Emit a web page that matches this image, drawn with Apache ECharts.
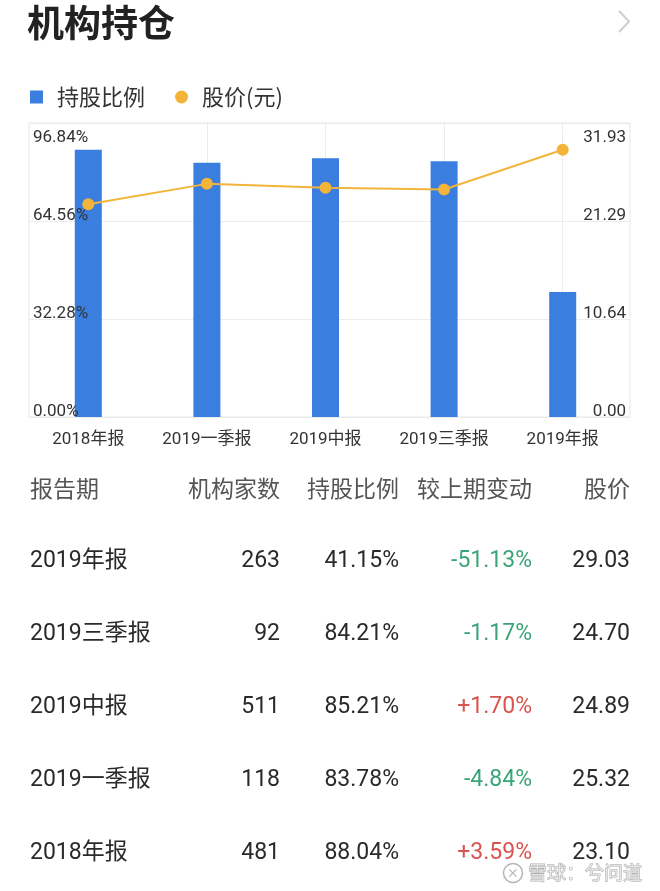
<!DOCTYPE html>
<html>
<head>
<meta charset="utf-8">
<script src="https://cdn.jsdelivr.net/npm/echarts@6/dist/echarts.min.js"></script>
<style>
html,body{margin:0;padding:0;background:#fff;}
#main{width:660px;height:891px;}
</style>
</head>
<body>
<div id="main"></div>
<script>
// ---- data ----
const categories = ['2018年报', '2019一季报', '2019中报', '2019三季报', '2019年报'];
const holdPct = [88.04, 83.78, 85.21, 84.21, 41.15];
const price = [23.10, 25.32, 24.89, 24.70, 29.03];
const orgCount = [481, 118, 511, 92, 263];
const changePct = [3.59, -4.84, 1.70, -1.17, -51.13];
const pctAxisMax = 96.84;
const priceAxisMax = 31.93;
const tableHeaders = ['报告期', '机构家数', '持股比例', '较上期变动', '股价'];
const legendNames = ['持股比例', '股价(元)'];
const titleText = '机构持仓';
const watermarkText = '雪球：兮问道';

// ---- styles ----
const FONT = 'Roboto, "Noto Sans CJK SC", sans-serif';
const CJK = '"Noto Sans CJK SC", sans-serif';
const BLUE = '#3a7ee0';
const GOLD = '#f2b53a';
const GRIDC = '#ececec';
const GREEN = '#3aa57a';
const RED = '#d9534f';

const chart = echarts.init(document.getElementById('main'), null, {renderer: 'canvas'});

const pctInterval = pctAxisMax / 3;
const priceInterval = priceAxisMax / 3;
const near = (a, b) => Math.abs(a - b) < 1e-6;

function labelAxis(pos, max, interval, isTop, fmt) {
  return {
    gridIndex: 1, type: 'value', position: pos, min: 0, max: max, interval: interval, z: 10,
    axisLine: {show: false}, axisTick: {show: false}, splitLine: {show: false},
    axisLabel: {
      inside: true, margin: 4, fontSize: 17, color: '#333', fontFamily: FONT,
      verticalAlign: isTop ? 'top' : 'bottom', lineHeight: isTop ? 29 : 11,
      formatter: function (v) {
        const m = near(v, max);
        if (isTop !== m) return '';
        return fmt(v);
      }
    }
  };
}

// ---- table graphics ----
const colX = [30, 280, 399, 532, 630];
const colAlign = ['left', 'right', 'right', 'right', 'right'];
const headerY = 488;
const rowY0 = 561, rowGap = 73;
const graphics = [];
function txt(x, y, text, align, fill, size, family, extra) {
  graphics.push({
    type: 'text', x: x, y: y, silent: true,
    style: Object.assign({
      text: text, fill: fill, fontSize: size, fontFamily: family,
      align: align, verticalAlign: 'middle', textAlign: align, textVerticalAlign: 'middle'
    }, extra || {})
  });
}
tableHeaders.forEach((h, c) => txt(colX[c], headerY, h, colAlign[c], '#555', 23, CJK));
for (let k = 0; k < categories.length; k++) {
  const i = categories.length - 1 - k;
  const y = rowY0 + rowGap * k;
  const ch = changePct[i];
  txt(colX[0], y, categories[i], 'left', '#2a2a2a', 23, FONT);
  txt(colX[1], y, String(orgCount[i]), 'right', '#2a2a2a', 23, FONT);
  txt(colX[2], y, holdPct[i].toFixed(2) + '%', 'right', '#2a2a2a', 23, FONT);
  txt(colX[3], y, (ch > 0 ? '+' : '') + ch.toFixed(2) + '%', 'right', ch > 0 ? RED : GREEN, 23, FONT);
  txt(colX[4], y, price[i].toFixed(2), 'right', '#2a2a2a', 23, FONT);
}
// chevron
graphics.push({type: 'polyline', silent: true, shape: {points: [[619, 11], [629, 21.5], [619, 32]]},
  style: {stroke: '#cfcfcf', lineWidth: 2, fill: null}});
// watermark
graphics.push({type: 'circle', silent: true, shape: {cx: 513, cy: 873, r: 9.5},
  style: {stroke: '#b5b5b5', lineWidth: 1.5, fill: 'rgba(255,255,255,0.5)'}});
graphics.push({type: 'text', silent: true, x: 513, y: 873,
  style: {text: '⨯', fill: '#b5b5b5', fontSize: 14, align: 'center', verticalAlign: 'middle', textAlign: 'center', textVerticalAlign: 'middle'}});
txt(528, 873, watermarkText, 'left', 'rgba(255,255,255,0.55)', 19, CJK, {stroke: '#b0b0b0', lineWidth: 1});

const option = {
  backgroundColor: '#fff',
  animation: false,
  title: {text: titleText, left: 27, top: 4, padding: 0,
    textStyle: {fontSize: 37, fontWeight: 'bold', color: '#222', fontFamily: CJK}},
  legend: {
    left: 30, top: 86, padding: 0, itemWidth: 13, itemHeight: 13, itemGap: 30,
    textStyle: {fontSize: 22, color: '#333', fontFamily: CJK, padding: [0, 0, 0, 9]},
    data: [{name: legendNames[0], icon: 'rect'}, {name: legendNames[1], icon: 'circle'}]
  },
  grid: [
    {left: 29, right: 38, top: 123, bottom: 474},
    {left: 29, right: 30, top: 123, bottom: 474, show: true, borderColor: '#e6e6e6', borderWidth: 1, backgroundColor: 'transparent'},
    {left: 88.3, right: 97.3, top: 123, bottom: 474}
  ],
  xAxis: [
    {gridIndex: 0, type: 'category', data: categories, boundaryGap: true,
      axisLine: {show: false}, axisTick: {show: false}, splitLine: {show: false},
      axisLabel: {fontSize: 17, color: '#333', margin: 14, fontFamily: FONT}},
    {gridIndex: 1, type: 'value', min: 0, max: 1, show: false},
    {gridIndex: 2, type: 'category', data: categories, boundaryGap: false,
      axisLine: {show: false}, axisTick: {show: false}, axisLabel: {show: false},
      splitLine: {show: true, interval: function (i) { return i > 0; }, lineStyle: {color: GRIDC, width: 1}}}
  ],
  yAxis: [
    {gridIndex: 0, type: 'value', min: 0, max: pctAxisMax, show: false},
    {gridIndex: 0, type: 'value', min: 0, max: priceAxisMax, show: false, position: 'right'},
    {gridIndex: 1, type: 'value', position: 'left', min: 0, max: pctAxisMax, interval: pctInterval,
      axisLine: {show: false}, axisTick: {show: false}, axisLabel: {show: false},
      splitLine: {show: true, lineStyle: {color: GRIDC, width: 1}}},
    labelAxis('left', pctAxisMax, pctInterval, false, v => v.toFixed(2) + '%'),
    labelAxis('left', pctAxisMax, pctInterval, true, v => v.toFixed(2) + '%'),
    labelAxis('right', priceAxisMax, priceInterval, false, v => v.toFixed(2)),
    labelAxis('right', priceAxisMax, priceInterval, true, v => v.toFixed(2)),
    {gridIndex: 2, type: 'value', show: false}
  ],
  series: [
    {name: legendNames[0], type: 'bar', xAxisIndex: 0, yAxisIndex: 0, data: holdPct,
      barWidth: 27, itemStyle: {color: BLUE}},
    {name: legendNames[1], type: 'line', xAxisIndex: 0, yAxisIndex: 1, data: price,
      symbol: 'circle', symbolSize: 12, lineStyle: {color: GOLD, width: 2},
      itemStyle: {color: GOLD}}
  ],
  graphic: graphics
};
chart.setOption(option);
</script>
</body>
</html>
